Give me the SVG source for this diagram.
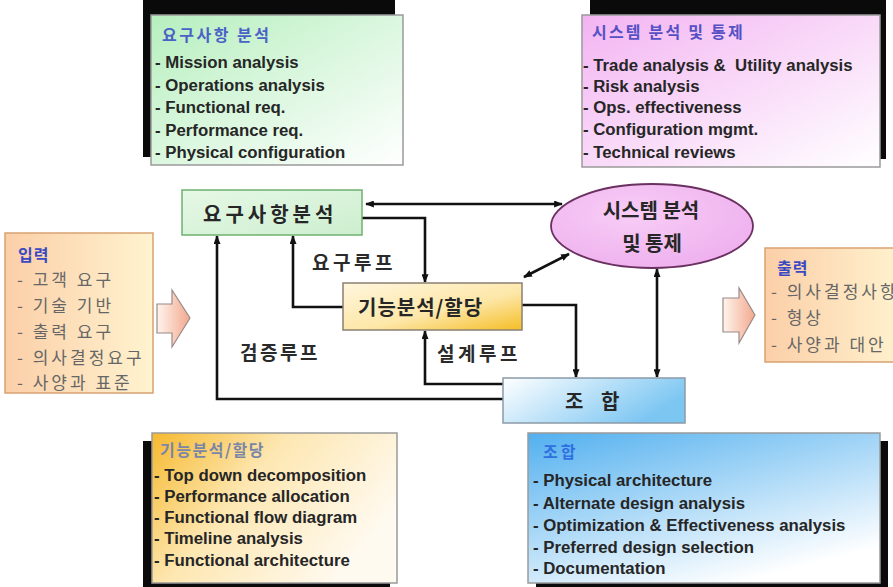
<svg xmlns="http://www.w3.org/2000/svg" width="893" height="587" viewBox="0 0 893 587">
  <style>
    .kr { font-family: "Noto Sans CJK KR", "Liberation Sans", sans-serif; }
    .item { font-family: "Liberation Sans", "Noto Sans CJK KR", sans-serif; font-size: 16.8px; font-weight: bold; fill: #262626; }
    .title { font-family: "Noto Sans CJK KR", sans-serif; font-size: 16px; font-weight: bold; }
    .io { font-family: "Noto Sans CJK KR", sans-serif; font-size: 17px; fill: #666666; letter-spacing: 3px; }
    .node-main { font-family: "Noto Sans CJK KR", sans-serif; font-size: 20px; font-weight: bold; fill: #262626; }
    .loop { font-family: "Noto Sans CJK KR", sans-serif; font-size: 19px; font-weight: bold; fill: #2a2a2a; }
    .conn { fill: none; stroke: #111; stroke-width: 2.6; }
    .shadow { fill: #0a0a0a; }
  </style>
  <defs>
    <marker id="ah" viewBox="0 0 10 8" refX="9" refY="4" markerWidth="9" markerHeight="7" markerUnits="userSpaceOnUse" orient="auto-start-reverse">
      <path d="M0,0 L10,4 L0,8 z" fill="#111"/>
    </marker>
    <linearGradient id="gGreen" x1="0" y1="0" x2="1" y2="1">
      <stop offset="0" stop-color="#b6efbe"/>
      <stop offset="1" stop-color="#ffffff"/>
    </linearGradient>
    <linearGradient id="gPink" x1="0" y1="0" x2="1" y2="1">
      <stop offset="0" stop-color="#f3b4f2"/>
      <stop offset="1" stop-color="#ffffff"/>
    </linearGradient>
    <linearGradient id="gGold" x1="0" y1="0" x2="1" y2="0.5">
      <stop offset="0" stop-color="#f6b92e"/>
      <stop offset="0.45" stop-color="#fde7b2"/>
      <stop offset="1" stop-color="#fffaf0"/>
    </linearGradient>
    <linearGradient id="gBlue" x1="0" y1="0" x2="0.6" y2="1">
      <stop offset="0" stop-color="#52b0ef"/>
      <stop offset="1" stop-color="#ffffff"/>
    </linearGradient>
    <linearGradient id="gPeach" x1="0" y1="0" x2="1" y2="0">
      <stop offset="0" stop-color="#fbcfa8"/>
      <stop offset="1" stop-color="#fff3cf"/>
    </linearGradient>
    <linearGradient id="gReq" x1="0" y1="0" x2="1" y2="1">
      <stop offset="0" stop-color="#e6f8e6"/>
      <stop offset="1" stop-color="#cdeecf"/>
    </linearGradient>
    <linearGradient id="gFunc" x1="0" y1="0" x2="0.9" y2="1">
      <stop offset="0" stop-color="#fff6de"/>
      <stop offset="0.6" stop-color="#fde7a8"/>
      <stop offset="1" stop-color="#f6c234"/>
    </linearGradient>
    <linearGradient id="gSyn" x1="0" y1="0" x2="1" y2="0.4">
      <stop offset="0" stop-color="#ffffff"/>
      <stop offset="1" stop-color="#7cc6f2"/>
    </linearGradient>
    <linearGradient id="gArrow" x1="0" y1="0" x2="1" y2="0">
      <stop offset="0" stop-color="#fff4ec"/>
      <stop offset="1" stop-color="#f2a88e"/>
    </linearGradient>
    <radialGradient id="gEll" cx="0.4" cy="0.35" r="0.7">
      <stop offset="0" stop-color="#f8cdf6"/>
      <stop offset="1" stop-color="#eeb0ee"/>
    </radialGradient>
  </defs>

  <rect width="893" height="587" fill="#ffffff"/>

  <!-- detail panel: requirements analysis -->
  <g id="panel-req">
    <rect class="shadow" x="143" y="-4" width="252" height="161"/>
    <rect x="151" y="15" width="252" height="150" fill="url(#gGreen)" stroke="#9a9a9a" stroke-width="1.5"/>
    <text class="title" x="162" y="41" fill="#4a62c6" letter-spacing="2.5">요구사항 분석</text>
    <text class="item" x="155" y="68">- Mission analysis</text>
    <text class="item" x="155" y="91">- Operations analysis</text>
    <text class="item" x="155" y="113">- Functional req.</text>
    <text class="item" x="155" y="136">- Performance req.</text>
    <text class="item" x="155" y="158">- Physical configuration</text>
  </g>

  <!-- detail panel: system analysis and control -->
  <g id="panel-sys">
    <rect class="shadow" x="590" y="-4" width="296" height="163"/>
    <rect x="582" y="15" width="298" height="152" fill="url(#gPink)" stroke="#9a9a9a" stroke-width="1.5"/>
    <text class="title" x="592" y="38" fill="#5650c4" letter-spacing="2.2">시스템 분석 및 통제</text>
    <text class="item" x="583" y="71" xml:space="preserve">- Trade analysis &amp;  Utility analysis</text>
    <text class="item" x="583" y="92">- Risk analysis</text>
    <text class="item" x="583" y="113">- Ops. effectiveness</text>
    <text class="item" x="583" y="135">- Configuration mgmt.</text>
    <text class="item" x="583" y="158">- Technical reviews</text>
  </g>

  <!-- detail panel: functional analysis / allocation -->
  <g id="panel-func">
    <rect class="shadow" x="143" y="441" width="247" height="152"/>
    <rect x="152" y="433" width="245" height="150" fill="url(#gGold)" stroke="#9a9a9a" stroke-width="1.5"/>
    <text class="title" x="160" y="456" fill="#7a86a8" letter-spacing="1.5">기능분석/할당</text>
    <text class="item" x="154" y="481">- Top down decomposition</text>
    <text class="item" x="154" y="502">- Performance allocation</text>
    <text class="item" x="154" y="523">- Functional flow diagram</text>
    <text class="item" x="154" y="544">- Timeline analysis</text>
    <text class="item" x="154" y="566">- Functional architecture</text>
  </g>

  <!-- detail panel: synthesis -->
  <g id="panel-syn">
    <rect class="shadow" x="536" y="441" width="352" height="152"/>
    <rect x="528" y="433" width="352" height="150" fill="url(#gBlue)" stroke="#9a9a9a" stroke-width="1.5"/>
    <text class="title" x="543" y="458" fill="#2f6fe0" letter-spacing="3">조합</text>
    <text class="item" x="533" y="486">- Physical architecture</text>
    <text class="item" x="533" y="509">- Alternate design analysis</text>
    <text class="item" x="533" y="531">- Optimization &amp; Effectiveness analysis</text>
    <text class="item" x="533" y="553">- Preferred design selection</text>
    <text class="item" x="533" y="574">- Documentation</text>
  </g>

  <!-- inputs -->
  <g id="inputs">
    <rect x="5" y="233" width="148" height="160" fill="url(#gPeach)" stroke="#d9a272" stroke-width="1.5"/>
    <text class="kr" x="18" y="261" font-size="16" font-weight="bold" fill="#3a48c4" letter-spacing="1">입력</text>
    <text class="io" x="17" y="286">- 고객 요구</text>
    <text class="io" x="17" y="312">- 기술 기반</text>
    <text class="io" x="17" y="338">- 출력 요구</text>
    <text class="io" x="17" y="364">- 의사결정요구</text>
    <text class="io" x="17" y="389">- 사양과 표준</text>
  </g>
  <g id="in-arrow">
    <path d="M157,304 H172 V290 L190,318 L172,347 V333 H157 Z" fill="url(#gArrow)" stroke="#9a8a8a" stroke-width="1.2"/>
  </g>

  <!-- outputs -->
  <g id="outputs">
    <rect x="765" y="248" width="140" height="114" fill="url(#gPeach)" stroke="#d9a272" stroke-width="1.5"/>
    <text class="kr" x="777" y="274" font-size="16" font-weight="bold" fill="#3a48c4" letter-spacing="1">출력</text>
    <text class="io" x="771" y="298">- 의사결정사항</text>
    <text class="io" x="771" y="324">- 형상</text>
    <text class="io" x="771" y="351">- 사양과 대안</text>
  </g>
  <g id="out-arrow">
    <path d="M723,298 H739 V288 L755,315 L739,343 V332 H723 Z" fill="url(#gArrow)" stroke="#9a8a8a" stroke-width="1.2"/>
  </g>

  <!-- connectors -->
  <g id="connectors">
    <path class="conn" d="M366,204 H562" marker-start="url(#ah)" marker-end="url(#ah)"/>
    <path class="conn" d="M362,218 H425 V282"  marker-end="url(#ah)"/>
    <path class="conn" d="M343,307 H293 V236" marker-end="url(#ah)"/>
    <path class="conn" d="M503,399 H217 V236" marker-end="url(#ah)"/>
    <path class="conn" d="M503,384 H425 V331" marker-end="url(#ah)"/>
    <path class="conn" d="M522,305 H576 V377" marker-end="url(#ah)"/>
    <path class="conn" d="M569,254 L524,277" marker-start="url(#ah)" marker-end="url(#ah)"/>
    <path class="conn" d="M657,269 V377" marker-start="url(#ah)" marker-end="url(#ah)"/>
  </g>

  <!-- loop labels -->
  <g id="loop-labels">
    <text class="loop" x="312" y="270" letter-spacing="3.5">요구루프</text>
    <text class="loop" x="240" y="360" letter-spacing="2.5">검증루프</text>
    <text class="loop" x="437" y="361" letter-spacing="3.5">설계루프</text>
  </g>

  <!-- requirements analysis node -->
  <g id="node-req">
    <rect x="182" y="190" width="180" height="45" fill="url(#gReq)" stroke="#6fb06f" stroke-width="1.5"/>
    <text class="node-main" x="203" y="222" letter-spacing="4">요구사항분석</text>
  </g>

  <!-- functional analysis / allocation node -->
  <g id="node-func">
    <rect x="343" y="283" width="179" height="47" fill="url(#gFunc)" stroke="#8a8070" stroke-width="1.5"/>
    <text class="node-main" x="358" y="315" font-size="21" letter-spacing="1">기능분석/할당</text>
  </g>

  <!-- system analysis and control node -->
  <g id="node-sys">
    <ellipse cx="652" cy="226" rx="101" ry="42" fill="url(#gEll)" stroke="#6a3060" stroke-width="1.8"/>
    <text class="node-main" x="651" y="218" font-size="21" text-anchor="middle">시스템 분석</text>
    <text class="node-main" x="652" y="251" font-size="21" text-anchor="middle">및 통제</text>
  </g>

  <!-- synthesis node -->
  <g id="node-syn">
    <rect x="503" y="378" width="182" height="45" fill="url(#gSyn)" stroke="#8a9aa8" stroke-width="1.5"/>
    <text class="node-main" x="565" y="409" font-size="23">조</text>
    <text class="node-main" x="601" y="409" font-size="23">합</text>
  </g>
</svg>
